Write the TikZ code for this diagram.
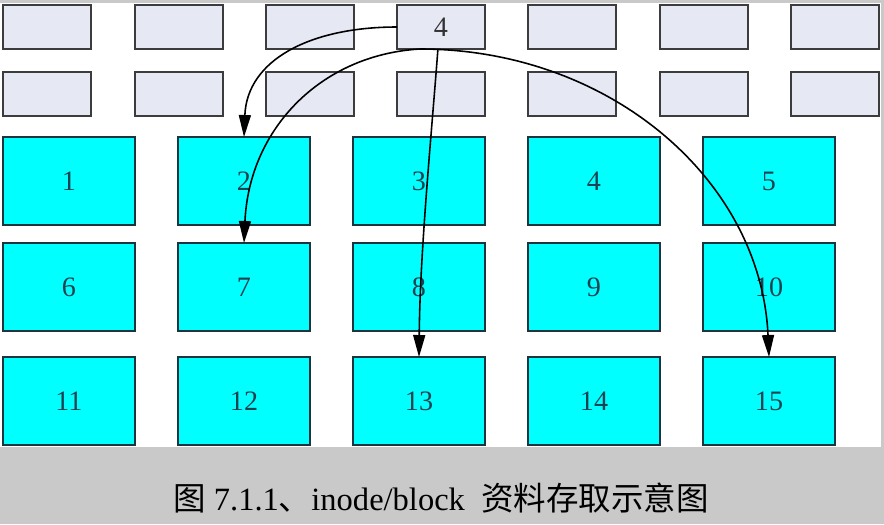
\documentclass[tikz,border=0pt]{standalone}
\usepackage{fontspec}
\setmainfont{Liberation Serif}
\newfontfamily\cjk{Noto Sans CJK SC}
\usetikzlibrary{arrows.meta}
\definecolor{inodefill}{HTML}{E6E8F4}
\definecolor{inodeline}{HTML}{3C3C3C}
\definecolor{blockfill}{HTML}{00FFFF}
\definecolor{blockline}{HTML}{1A3440}
\definecolor{blocktext}{HTML}{1E4250}
\definecolor{capgray}{HTML}{C9C9C9}
\begin{document}
\begin{tikzpicture}[x=0.02cm, y=-0.02cm,
			inode/.style = {draw=inodeline, fill=inodefill, line width=1.2pt, minimum width=1.76cm, minimum height=0.88cm, inner sep=0pt, outer sep=0pt, text=black!80, font=\fontsize{16}{18}\selectfont},
			block/.style = {draw=blockline, fill=blockfill, line width=1.2pt, minimum width=2.64cm, minimum height=1.76cm, inner sep=0pt, outer sep=0pt, text=blocktext, font=\fontsize{16}{18}\selectfont},
			link/.style = {draw=black, line width=0.9pt, -{Triangle[length=0.44cm, width=0.24cm]}}]
			
			\useasboundingbox (0,0) rectangle (884,524);
			\fill[capgray] (0,0) rectangle (884,524);
			\fill[white] (0,3) rectangle (881,447);
			
			% inode table
			\node[inode] (i1) at (47,27) {};
			\node[inode] (i2) at (179,27) {};
			\node[inode] (i3) at (310,27) {};
			\node[inode] (i4) at (441,27) {4};
			\node[inode] (i5) at (572,27) {};
			\node[inode] (i6) at (704,27) {};
			\node[inode] (i7) at (835,27) {};
			\node[inode] (i8) at (47,94) {};
			\node[inode] (i9) at (179,94) {};
			\node[inode] (i10) at (310,94) {};
			\node[inode] (i11) at (441,94) {};
			\node[inode] (i12) at (572,94) {};
			\node[inode] (i13) at (704,94) {};
			\node[inode] (i14) at (835,94) {};
			
			% data blocks
			\node[block] (b1) at (69,181) {1};
			\node[block] (b2) at (244,181) {2};
			\node[block] (b3) at (419,181) {3};
			\node[block] (b4) at (594,181) {4};
			\node[block] (b5) at (769,181) {5};
			\node[block] (b6) at (69,287) {6};
			\node[block] (b7) at (244,287) {7};
			\node[block] (b8) at (419,287) {8};
			\node[block] (b9) at (594,287) {9};
			\node[block] (b10) at (769,287) {10};
			\node[block] (b11) at (69,401) {11};
			\node[block] (b12) at (244,401) {12};
			\node[block] (b13) at (419,401) {13};
			\node[block] (b14) at (594,401) {14};
			\node[block] (b15) at (769,401) {15};
			
			% pointers
			\draw[link] (i4.west) .. controls +(-87,0) and +(3,-77) .. (b2.north);
			\draw[link] (i4.226) .. controls +(-100,6) and +(5,-113) .. (b7.north);
			\draw[link] (i4.262) .. controls +(-6,81) and +(1,-107) .. (b13.north);
			\draw[link] (i4.226) .. controls +(190,0) and +(-8,-177) .. (b15.north);
			
			\node[font=\fontsize{18.5}{20}\selectfont] (caption) at (441,498) {{\cjk 图} 7.1.1{\cjk 、}inode/block\ \ {\cjk 资料存取示意图}};
			\end{tikzpicture}
\end{document}
